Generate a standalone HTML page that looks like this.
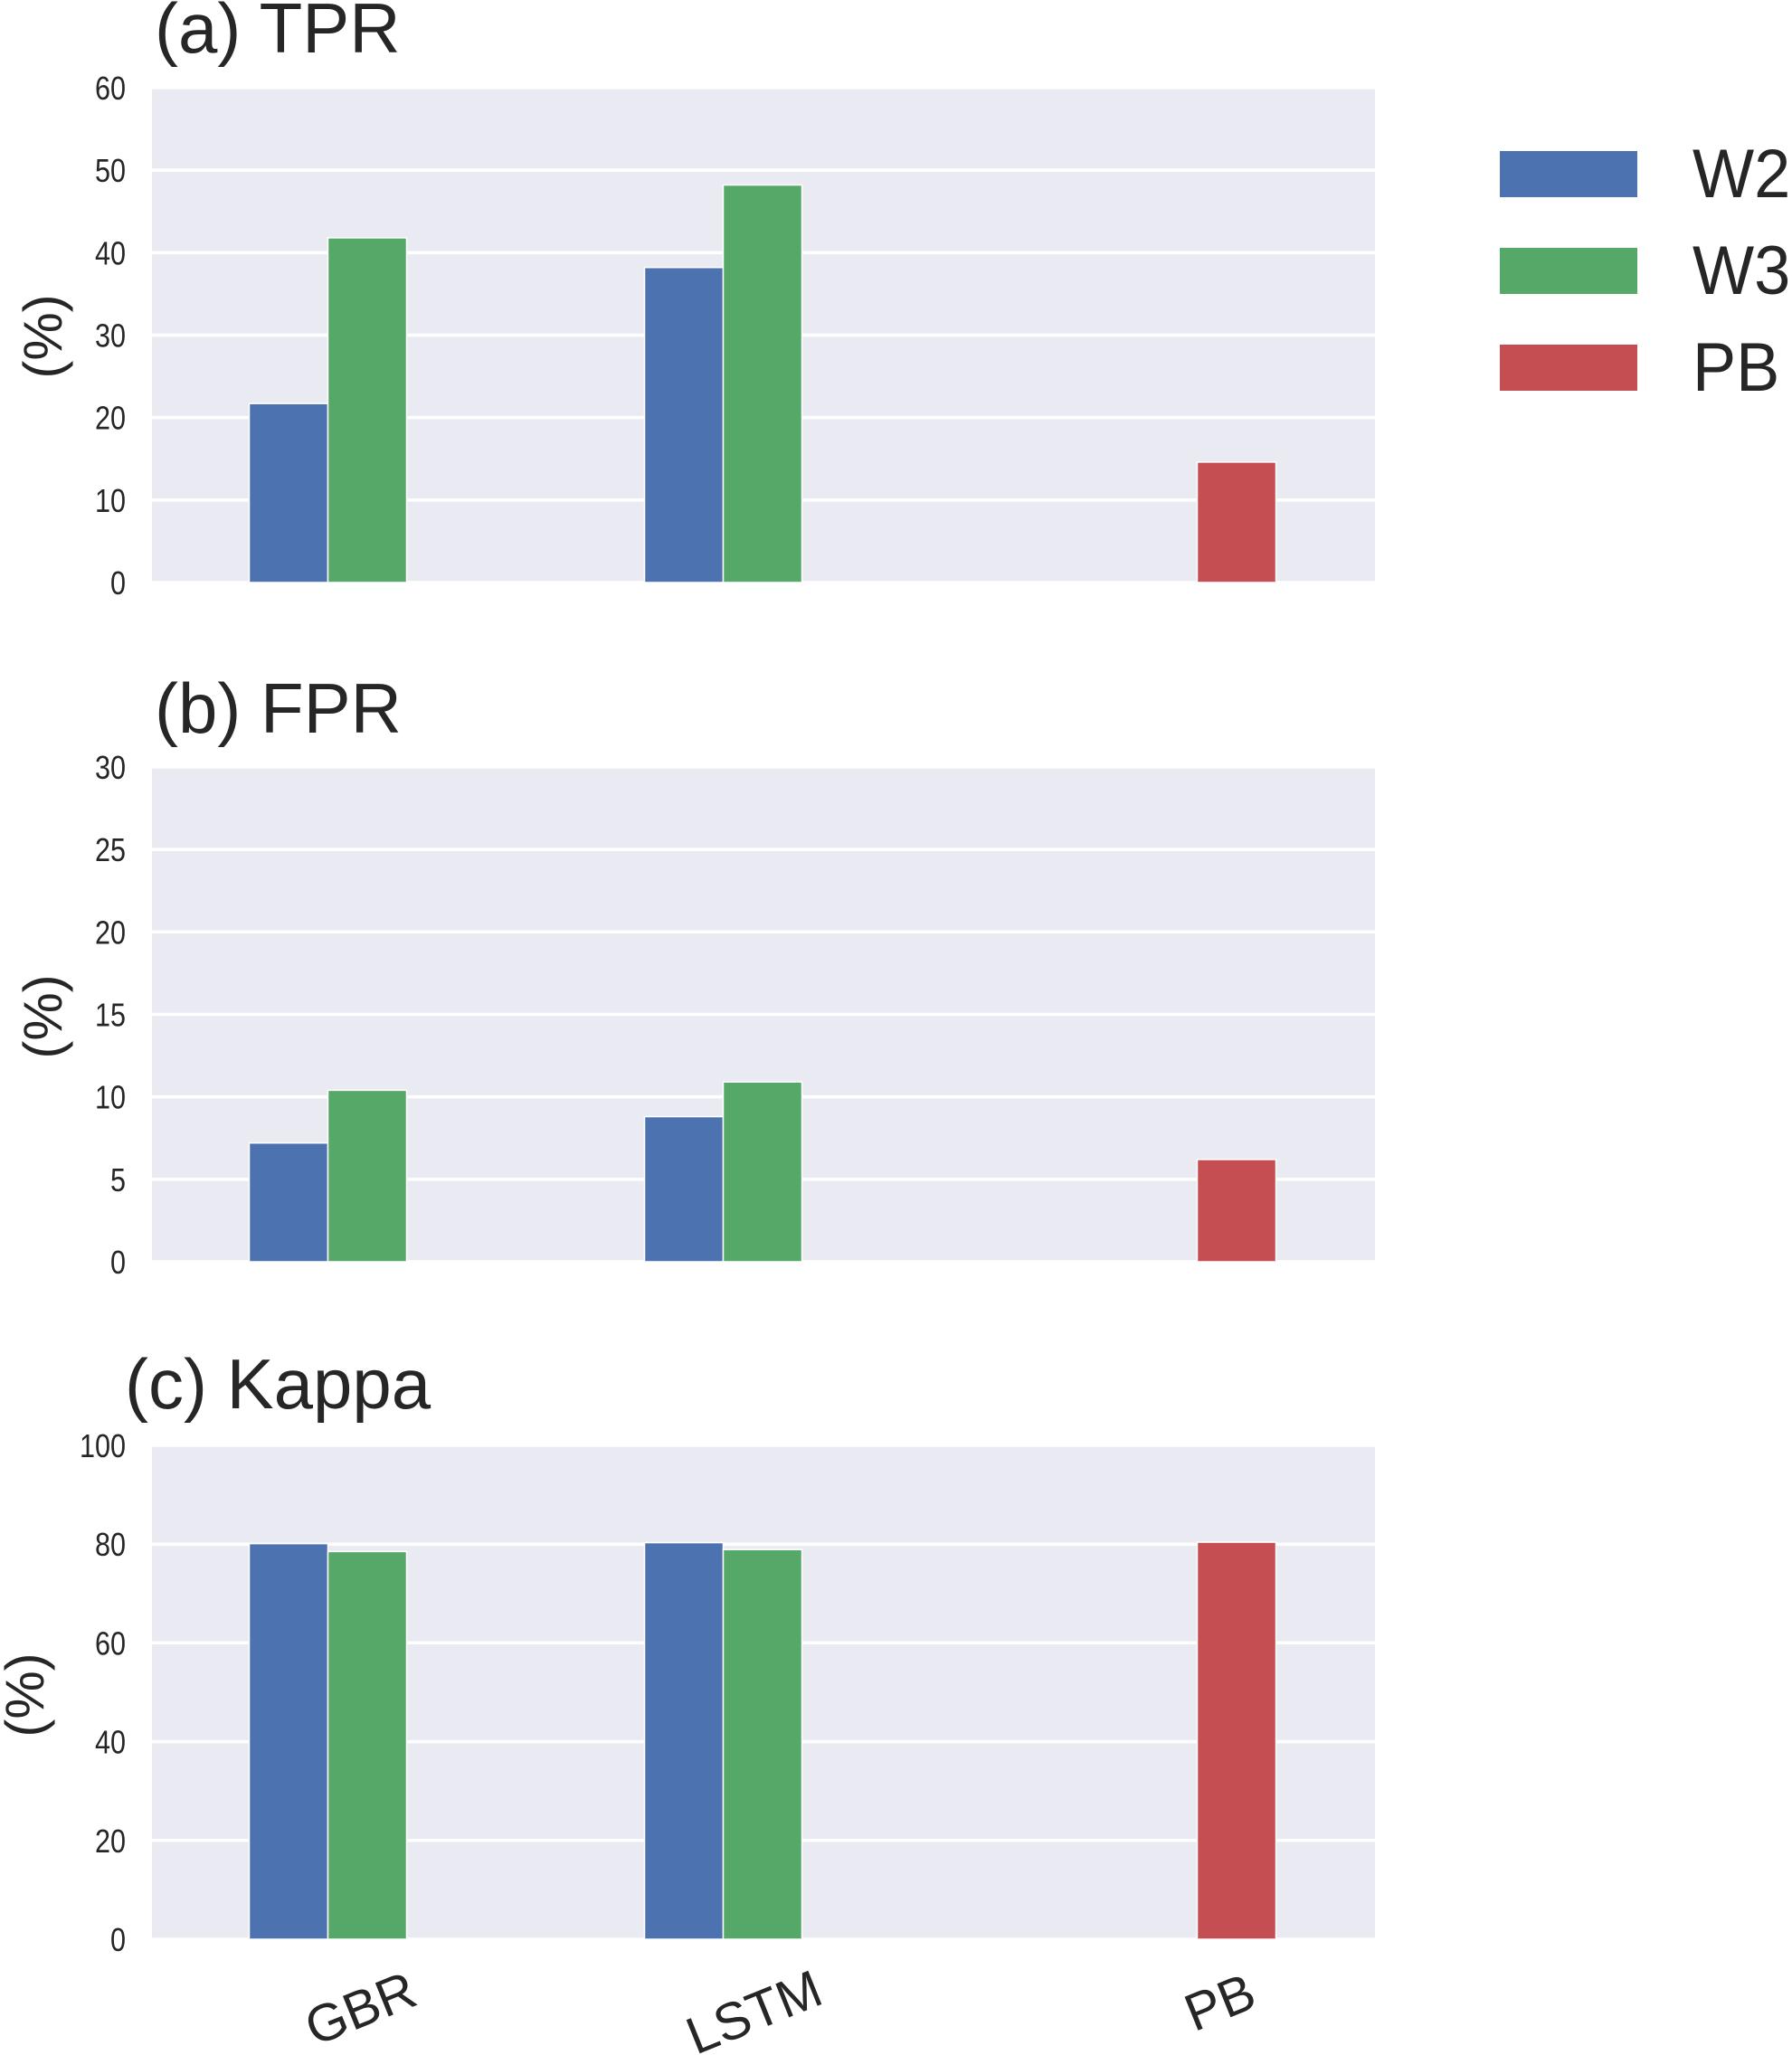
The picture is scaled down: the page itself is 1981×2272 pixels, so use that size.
<!DOCTYPE html>
<html><head><meta charset="utf-8"><style>
html,body{margin:0;padding:0;background:#fff}
svg{display:block;font-family:"Liberation Sans",sans-serif}
</style></head><body>
<svg id="chart" width="1981" height="2272" viewBox="0 0 1981 2272" xmlns="http://www.w3.org/2000/svg"></svg>
<script>
const categories = ["GBR","LSTM","PB"];
const seriesNames = ["W2","W3","PB"];
const tprW2 = [21.7, 38.2, null];
const tprW3 = [41.8, 48.2, null];
const tprPB = [null, null, 14.6];
const fprW2 = [7.2, 8.8, null];
const fprW3 = [10.4, 10.9, null];
const fprPB = [null, null, 6.2];
const kapW2 = [80.1, 80.3, null];
const kapW3 = [78.5, 78.9, null];
const kapPB = [null, null, 80.4];
const tprTicks = [0,10,20,30,40,50,60];
const fprTicks = [0,5,10,15,20,25,30];
const kapTicks = [0,20,40,60,80,100];

const colors = ["#4C72B0","#55A868","#C44E52"];
const NS = "http://www.w3.org/2000/svg";
const svg = document.getElementById("chart");
function mk(tag, attrs, parent){const e=document.createElementNS(NS,tag);for(const k in attrs)e.setAttribute(k,attrs[k]);(parent||svg).appendChild(e);return e;}

const X0 = 168, X1 = 1520;
const catStep = 437, cat0 = 406, barW = 87;
function xScale(catIdx, seriesIdx){ return cat0 + catIdx*catStep + (seriesIdx-1)*barW; }

const panels = [
 {key:"tpr", title:"(a) TPR", tx:171, ty:58, top:97, bot:644, max:60, ticks:tprTicks, data:[tprW2,tprW3,tprPB], ylx:48, yly:372},
 {key:"fpr", title:"(b) FPR", tx:171, ty:810, top:848, bot:1395, max:30, ticks:fprTicks, data:[fprW2,fprW3,fprPB], ylx:48, yly:1124},
 {key:"kappa", title:"(c) Kappa", tx:138, ty:1557, top:1598, bot:2144, max:100, ticks:kapTicks, data:[kapW2,kapW3,kapPB], ylx:28, yly:1874}
];

panels.forEach(p=>{
  const g = mk("g",{});
  
  
  const y = v => p.bot - v/p.max*(p.bot-p.top);
  const bg = mk("rect",{x:X0,y:p.top,width:X1-X0,height:p.bot-p.top,fill:"#EAEAF2"},g);
  
  
  p.ticks.forEach(t=>{
    const gl = mk("line",{x1:X0,x2:X1,y1:y(t),y2:y(t),stroke:"#fff","stroke-width":3.5},g);
    
    
    const tl = mk("text",{x:139,y:y(t)+13,"text-anchor":"end","font-size":36,fill:"#262626",transform:"translate("+139+" 0) scale(0.85 1) translate(-139 0)"},g);
    tl.textContent = t;
    
    
  });
  p.data.forEach((arr,si)=>{
    arr.forEach((v,ci)=>{
      if(v===null) return;
      const b = mk("rect",{x:xScale(ci,si)-barW/2,y:y(v),width:barW,height:p.bot-y(v),fill:colors[si],stroke:"#fff","stroke-width":1.5},g);
      
      
    });
  });
  const ti = mk("text",{x:p.tx,y:p.ty,"font-size":78,fill:"#262626"},g);
  ti.textContent = p.title;
  
  
  const yl = mk("text",{x:0,y:0,"font-size":60,fill:"#262626","text-anchor":"middle",transform:"translate("+(p.ylx+20)+" "+p.yly+") rotate(-90)"},g);
  yl.textContent = "(%)";
  
  
});

const xl = [[406,2219],[841,2223],[1356,2212]];
categories.forEach((c,i)=>{
  const t = mk("text",{x:0,y:0,"font-size":58,fill:"#262626","text-anchor":"middle",transform:"translate("+xl[i][0]+" "+(xl[i][1]+20)+") rotate(-22)"});
  t.textContent = c;
  
  
});

const legY = [167,274,381];
seriesNames.forEach((s,i)=>{
  const r = mk("rect",{x:1658,y:legY[i],width:152,height:51,fill:colors[i]});
  
  
  const t = mk("text",{x:1871,y:legY[i]+51,"font-size":76,fill:"#262626",transform:"translate(1871 0) scale(0.95 1) translate(-1871 0)"});
  t.textContent = s;
  
  
});
</script>
</body></html>
